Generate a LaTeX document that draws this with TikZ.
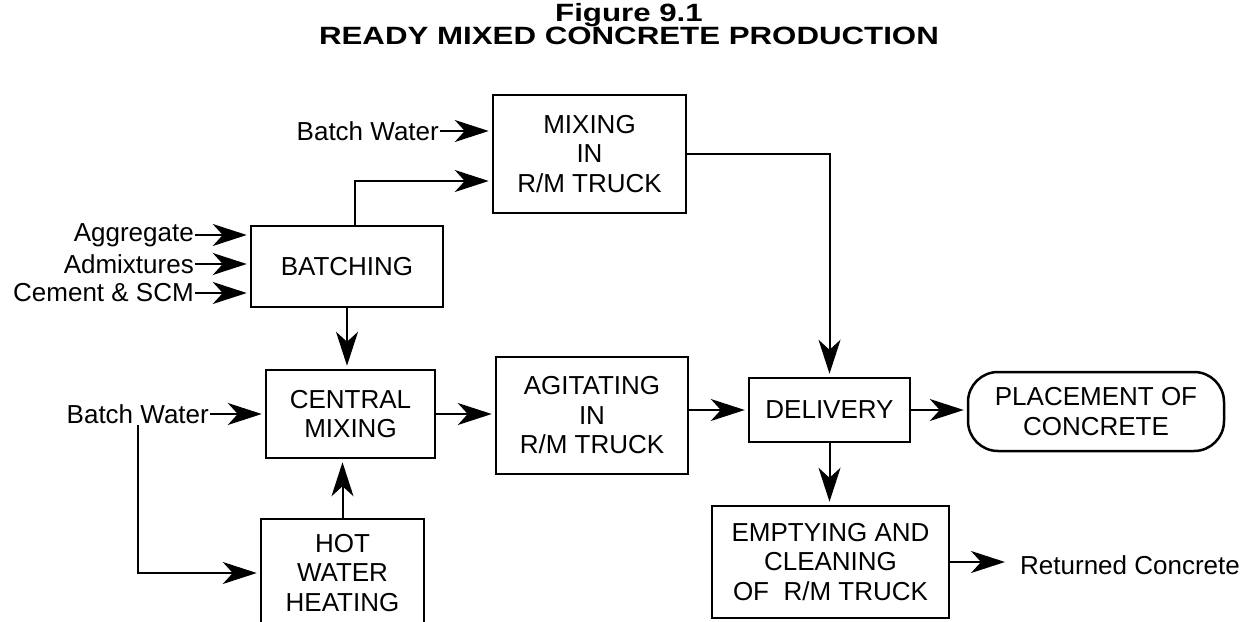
\documentclass[tikz,border=0pt]{standalone}
\usepackage{fontspec}
\setmainfont{Liberation Sans}
\newfontfamily\headfont[FakeStretch=1.25]{Liberation Sans}
\usetikzlibrary{arrows.meta}

\begin{document}
\begin{tikzpicture}[x=1pt, y=-1pt,
  every node/.style={font=\fontsize{26}{29.5}\selectfont},
  box/.style={draw, line width=2.5pt, align=center, inner sep=0pt},
  lbl/.style={inner sep=1pt},
  flow/.style={line width=2pt, shorten >=3pt,
    -{Stealth[length=34pt, width=22pt, inset=10pt]}}]
\useasboundingbox (0,0) rectangle (1257,621);

% heading
\node[align=center, inner sep=0pt, font=\headfont\bfseries\fontsize{25}{23.5}\selectfont] (title) at (629,24)
  {Figure 9.1\\READY MIXED CONCRETE PRODUCTION};

% process boxes
\node[box, minimum width=193pt, minimum height=118pt] (mixing) at (589.5,154) {MIXING\\IN\\R/M TRUCK};
\node[box, minimum width=192pt, minimum height=81pt] (batching) at (347,266.5) {BATCHING};
\node[box, minimum width=169pt, minimum height=88pt] (central) at (350.5,414) {CENTRAL\\MIXING};
\node[box, minimum width=192pt, minimum height=117pt] (agitating) at (592,415.5) {AGITATING\\IN\\R/M TRUCK};
\node[box, minimum width=163pt, minimum height=108pt] (hot) at (342.5,573) {HOT\\WATER\\HEATING};
\node[box, minimum width=161pt, minimum height=64pt] (delivery) at (829.5,410) {DELIVERY};
\node[box, rounded corners=30pt, minimum width=256pt, minimum height=79pt] (placement) at (1096,411.5) {PLACEMENT OF\\CONCRETE};
\node[box, minimum width=237pt, minimum height=112pt] (emptying) at (830.5,562) {EMPTYING AND\\CLEANING\\OF\ \ R/M TRUCK};

% inputs and outputs
\node[lbl, anchor=east] (watertop) at (440,131) {Batch Water};
\node[lbl, anchor=east] (aggregate) at (195,235) {Aggregate};
\node[lbl, anchor=east] (admix) at (195,264) {Admixtures};
\node[lbl, anchor=east] (cement) at (195,293) {Cement \& SCM};
\node[lbl, anchor=east] (watermid) at (210,414) {Batch Water};
\node[lbl, anchor=west] (returned) at (1019,565) {Returned Concrete};

% flows
\draw[flow] (watertop.east) -- (watertop.east -| mixing.west);
\draw[flow] ([xshift=8pt]batching.north) |- ([yshift=-27pt]mixing.west);
\draw[flow] (aggregate.east) -- (aggregate.east -| batching.west);
\draw[flow] (admix.east) -- (admix.east -| batching.west);
\draw[flow] (cement.east) -- (cement.east -| batching.west);
\draw[flow] (batching.south) -- (batching.south |- central.north);
\draw[flow] (watermid.east) -- (watermid.east -| central.west);
\draw[flow] (watermid.south) |- (hot.west);
\draw[flow] (hot.north) -- (hot.north |- central.south);
\draw[flow] (central.east) -- (central.east -| agitating.west);
\draw[flow] (agitating.east |- delivery.west) -- (delivery.west);
\draw[flow] (mixing.east) -| (delivery.north);
\draw[flow] (delivery.east) -- (delivery.east -| placement.west);
\draw[flow] (delivery.south) -- (delivery.south |- emptying.north);
\draw[flow, shorten >=14pt] (emptying.east) -- (emptying.east -| returned.west);
\end{tikzpicture}
\end{document}
